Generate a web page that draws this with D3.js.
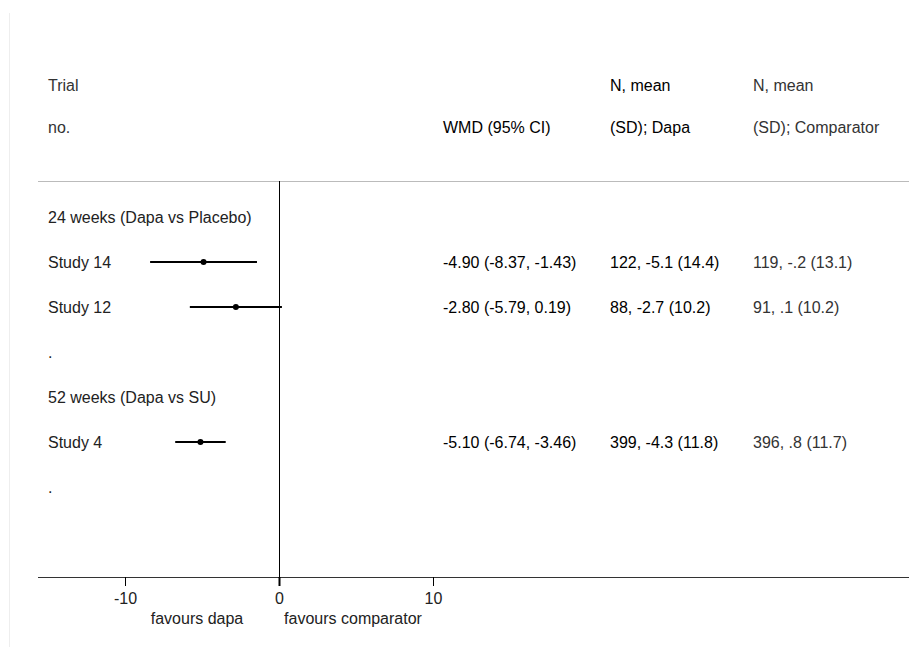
<!DOCTYPE html>
<html>
<head>
<meta charset="utf-8">
<script src="https://cdn.jsdelivr.net/npm/d3@7"></script>
<style>
  body { margin: 0; background: #fff; }
  text { font-family: "Liberation Sans", Arial, sans-serif; font-size: 16px; }
</style>
</head>
<body>
<div id="chart"></div>
<script>
// rows, top to bottom
const rowLabels = ["24 weeks (Dapa vs Placebo)", "Study 14", "Study 12", ".", "52 weeks (Dapa vs SU)", "Study 4", "."];
const rowType = ["group", "study", "study", "blank", "group", "study", "blank"];
const wmd = [null, -4.90, -2.80, null, null, -5.10, null];
const ciLow = [null, -8.37, -5.79, null, null, -6.74, null];
const ciHigh = [null, -1.43, 0.19, null, null, -3.46, null];
const dapaText = ["", "122, -5.1 (14.4)", "88, -2.7 (10.2)", "", "", "399, -4.3 (11.8)", ""];
const compText = ["", "119, -.2 (13.1)", "91, .1 (10.2)", "", "", "396, .8 (11.7)", ""];
const xTicks = [-10, 0, 10];

const width = 909;
const height = 647;

const svg = d3.select("#chart").append("svg")
  .attr("width", width)
  .attr("height", height);

// faint frame line at left
svg.append("line")
  .attr("x1", 9.5).attr("x2", 9.5)
  .attr("y1", 13).attr("y2", height)
  .attr("stroke", "#eeeeee");

const x = d3.scaleLinear().domain([-10, 10]).range([125, 433]);
const y = d3.scaleLinear().domain([0, 6]).range([217, 487]);

const axisY = 577;
const lineTop = 181;
const colLabel = 48, colWmd = 443, colDapa = 610, colComp = 753;

// header
const header = svg.append("g");
header.append("text").attr("x", colLabel).attr("y", 85).attr("dy", "0.35em").attr("fill", "#333").text("Trial");
header.append("text").attr("x", colLabel).attr("y", 127).attr("dy", "0.35em").attr("fill", "#333").text("no.");
header.append("text").attr("x", colWmd).attr("y", 127).attr("dy", "0.35em").attr("fill", "#000").text("WMD (95% CI)");
header.append("text").attr("x", colDapa).attr("y", 85).attr("dy", "0.35em").attr("fill", "#000").text("N, mean");
header.append("text").attr("x", colDapa).attr("y", 127).attr("dy", "0.35em").attr("fill", "#000").text("(SD); Dapa");
header.append("text").attr("x", colComp).attr("y", 85).attr("dy", "0.35em").attr("fill", "#333").text("N, mean");
header.append("text").attr("x", colComp).attr("y", 127).attr("dy", "0.35em").attr("fill", "#333").text("(SD); Comparator");

// separator under header
svg.append("line")
  .attr("x1", 38).attr("x2", width)
  .attr("y1", lineTop + 0.5).attr("y2", lineTop + 0.5)
  .attr("stroke", "#bbbbbb");

// no-effect line
svg.append("line")
  .attr("x1", x(0) + 0.5).attr("x2", x(0) + 0.5)
  .attr("y1", lineTop).attr("y2", axisY)
  .attr("stroke", "#000");

// row labels
svg.selectAll(".label")
  .data(rowLabels)
  .join("text")
  .attr("class", "label")
  .attr("x", colLabel)
  .attr("y", (d, i) => y(i))
  .attr("dy", "0.35em")
  .attr("fill", "#222")
  .text(d => d);

const studies = d3.range(rowLabels.length).filter(i => rowType[i] === "study");

// CI lines
svg.selectAll(".ci")
  .data(studies)
  .join("line")
  .attr("class", "ci")
  .attr("x1", i => x(ciLow[i]))
  .attr("x2", i => x(ciHigh[i]))
  .attr("y1", i => y(i))
  .attr("y2", i => y(i))
  .attr("stroke", "#000")
  .attr("stroke-width", 2);

// point estimates
svg.selectAll(".pt")
  .data(studies)
  .join("circle")
  .attr("class", "pt")
  .attr("cx", i => x(wmd[i]))
  .attr("cy", i => y(i))
  .attr("r", 3)
  .attr("fill", "#000");

// WMD text
svg.selectAll(".wmd")
  .data(studies)
  .join("text")
  .attr("class", "wmd")
  .attr("x", colWmd)
  .attr("y", i => y(i))
  .attr("dy", "0.35em")
  .attr("fill", "#000")
  .text(i => `${wmd[i].toFixed(2)} (${ciLow[i].toFixed(2)}, ${ciHigh[i].toFixed(2)})`);

svg.selectAll(".dapa")
  .data(studies)
  .join("text")
  .attr("class", "dapa")
  .attr("x", colDapa)
  .attr("y", i => y(i))
  .attr("dy", "0.35em")
  .attr("fill", "#000")
  .text(i => dapaText[i]);

svg.selectAll(".comp")
  .data(studies)
  .join("text")
  .attr("class", "comp")
  .attr("x", colComp)
  .attr("y", i => y(i))
  .attr("dy", "0.35em")
  .attr("fill", "#333")
  .text(i => compText[i]);

// x axis
svg.append("line")
  .attr("x1", 38).attr("x2", width)
  .attr("y1", axisY + 0.5).attr("y2", axisY + 0.5)
  .attr("stroke", "#333");

const axis = d3.axisBottom(x).tickValues(xTicks).tickSize(9).tickPadding(7).tickFormat(d => String(d));
const axisG = svg.append("g")
  .attr("transform", `translate(0, ${axisY})`)
  .call(axis);
axisG.select(".domain").remove();
axisG.selectAll(".tick line").attr("stroke", "#000");
axisG.selectAll(".tick text")
  .style("font-family", "'Liberation Sans', Arial, sans-serif")
  .style("font-size", "16px")
  .attr("fill", "#222");
axisG.selectAll(".tick").filter(d => d === 0).select("line").attr("stroke-width", 2);

svg.append("text").attr("x", 197).attr("y", 618).attr("dy", "0.35em")
  .attr("text-anchor", "middle").attr("fill", "#222").text("favours dapa");
svg.append("text").attr("x", 353).attr("y", 618).attr("dy", "0.35em")
  .attr("text-anchor", "middle").attr("fill", "#222").text("favours comparator");
</script>
</body>
</html>
